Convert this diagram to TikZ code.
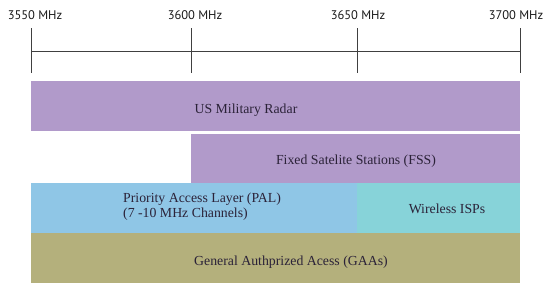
\documentclass[tikz,border=0pt]{standalone}
\usepackage{fontspec}
\setmainfont{Liberation Serif}
\newfontfamily\axisfont{PT Sans}
\usepackage{tikz}
\usetikzlibrary{positioning}
\definecolor{radarpurple}{HTML}{B19ACA}
\definecolor{palblue}{HTML}{8FC6E6}
\definecolor{wispteal}{HTML}{87D3D9}
\definecolor{gaaolive}{HTML}{B4B07C}
\definecolor{bandtext}{HTML}{2B2238}
\tikzset{
  band-bar/.style={draw=none, anchor=north west, inner sep=0pt},
  band-text/.style={font=\fontsize{13.8}{15}\selectfont, text=bandtext, inner sep=0pt},
  band-tick/.style={line width=0.7pt, black!75},
  band-label/.style={font=\axisfont\fontsize{12.5}{14}\selectfont, anchor=base, text=black!90}
}

\begin{document}
\begin{tikzpicture}[x=1pt, y=1pt]
  \useasboundingbox (0,0) rectangle (550,-289);

  % Frequency axis
  \foreach \f/\x in {3550/31, 3600/191, 3650/357, 3700/520} {
    \coordinate (t\f-top) at (\x,-28);
    \coordinate (t\f-bot) at (\x,-73);
    \draw[band-tick] (t\f-top) -- (t\f-bot);
  }
  \coordinate (axis-l) at (31,-51);
  \coordinate (axis-r) at (520,-51);
  \draw[band-tick] (axis-l) -- (axis-r);
  \node[band-label] (f3550) at (35,-19.5) {3550 MHz};
  \node[band-label] (f3600) at (195,-19.5) {3600 MHz};
  \node[band-label] (f3650) at (358,-19.5) {3650 MHz};
  \node[band-label] (f3700) at (516,-19.5) {3700 MHz};

  % Incumbents
  \node[band-bar, fill=radarpurple, minimum width=489pt, minimum height=50pt] (radar) at (31,-81) {};
  \node[band-text, anchor=base] (radar-text) at (246,-113) {US Military Radar};
  \node[band-bar, fill=radarpurple, minimum width=329pt, minimum height=50pt] (fss) at (191,-133.5) {};
  \node[band-text, anchor=base] (fss-text) at (356,-164) {Fixed Satelite Stations (FSS)};

  % Priority access
  \node[band-bar, fill=palblue, minimum width=326pt, minimum height=49.5pt] (pal) at (31,-183) {};
  \node[band-text, anchor=base west, align=left] (pal-text) at (123,-217) {Priority Access Layer (PAL)\\(7 -10 MHz Channels)};
  \node[band-bar, fill=wispteal, minimum width=163pt, minimum height=49.5pt] (wisp) at (357,-183) {};
  \node[band-text, anchor=base] (wisp-text) at (447,-213) {Wireless ISPs};

  % General access
  \node[band-bar, fill=gaaolive, minimum width=489pt, minimum height=50pt] (gaa) at (31,-232.5) {};
  \node[band-text, anchor=base] (gaa-text) at (291,-265) {General Authprized Acess (GAAs)};
\end{tikzpicture}
\end{document}
